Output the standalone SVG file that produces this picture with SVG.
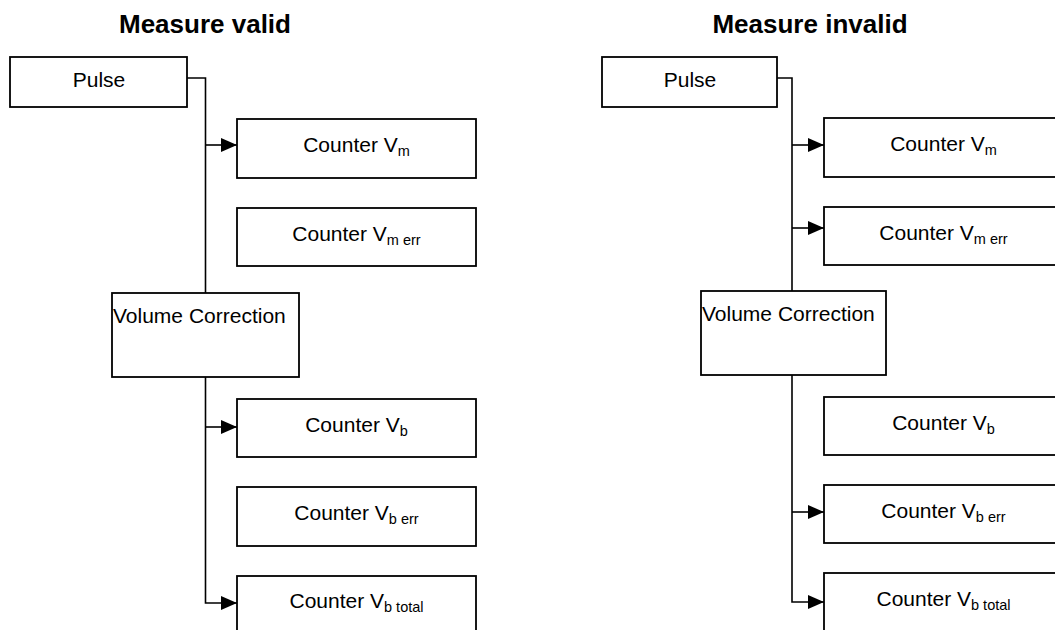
<svg xmlns="http://www.w3.org/2000/svg" width="1055" height="630" viewBox="0 0 1055 630">
<style>
.box{fill:#fff;stroke:#000;stroke-width:1.8}
.con{fill:none;stroke:#000;stroke-width:1.6}
.t{font-family:"Liberation Sans",Arial,sans-serif;font-size:21px;fill:#000}
.c{text-anchor:middle}
.sub{font-size:14.5px}
.title{font-family:"Liberation Sans",Arial,sans-serif;font-size:26px;font-weight:bold;text-anchor:middle;fill:#000}
</style>
<defs>
<marker id="arr" markerUnits="userSpaceOnUse" markerWidth="17" markerHeight="15" refX="16" refY="7" orient="auto">
<path d="M0,0 L16,7 L0,14 z" fill="#000"/>
</marker>
</defs>
<rect width="1055" height="630" fill="#fff"/>
<text class="title" x="205" y="33">Measure valid</text>
<text class="title" x="810" y="33">Measure invalid</text>

<g id="connectors">
<path class="con" d="M187,78 H205.5 V293"/>
<path class="con" d="M205.5,145 H237" marker-end="url(#arr)"/>
<path class="con" d="M205.5,377 V603 H237" marker-end="url(#arr)"/>
<path class="con" d="M205.5,427 H237" marker-end="url(#arr)"/>
<path class="con" d="M777,78 H792 V291"/>
<path class="con" d="M792,145 H824" marker-end="url(#arr)"/>
<path class="con" d="M792,228 H824" marker-end="url(#arr)"/>
<path class="con" d="M792,375 V602 H824" marker-end="url(#arr)"/>
<path class="con" d="M792,512 H824" marker-end="url(#arr)"/>
</g>

<g id="l-pulse"><rect class="box" x="10" y="57" width="177" height="50"/><text class="t c" x="99" y="87">Pulse</text></g>
<g id="l-vm"><rect class="box" x="237" y="119" width="239" height="59"/><text class="t c" x="356.5" y="152">Counter V<tspan class="sub" dy="4">m</tspan></text></g>
<g id="l-vmerr"><rect class="box" x="237" y="208" width="239" height="58"/><text class="t c" x="356.5" y="241">Counter V<tspan class="sub" dy="4">m err</tspan></text></g>
<g id="l-vc"><rect class="box" x="112" y="293" width="187" height="84"/><text class="t" x="113" y="323">Volume Correction</text></g>
<g id="l-vb"><rect class="box" x="237" y="399" width="239" height="58"/><text class="t c" x="356.5" y="432">Counter V<tspan class="sub" dy="4">b</tspan></text></g>
<g id="l-vberr"><rect class="box" x="237" y="487" width="239" height="59"/><text class="t c" x="356.5" y="520">Counter V<tspan class="sub" dy="4">b err</tspan></text></g>
<g id="l-vbtotal"><rect class="box" x="237" y="576" width="239" height="62"/><text class="t c" x="356.5" y="608">Counter V<tspan class="sub" dy="4">b total</tspan></text></g>

<g id="r-pulse"><rect class="box" x="602" y="57" width="175" height="50"/><text class="t c" x="690" y="87">Pulse</text></g>
<g id="r-vm"><rect class="box" x="824" y="118" width="239" height="59"/><text class="t c" x="943.5" y="151">Counter V<tspan class="sub" dy="4">m</tspan></text></g>
<g id="r-vmerr"><rect class="box" x="824" y="207" width="239" height="58"/><text class="t c" x="943.5" y="240">Counter V<tspan class="sub" dy="4">m err</tspan></text></g>
<g id="r-vc"><rect class="box" x="701" y="291" width="185" height="84"/><text class="t" x="702" y="321">Volume Correction</text></g>
<g id="r-vb"><rect class="box" x="824" y="397" width="239" height="58"/><text class="t c" x="943.5" y="430">Counter V<tspan class="sub" dy="4">b</tspan></text></g>
<g id="r-vberr"><rect class="box" x="824" y="485" width="239" height="58"/><text class="t c" x="943.5" y="518">Counter V<tspan class="sub" dy="4">b err</tspan></text></g>
<g id="r-vbtotal"><rect class="box" x="824" y="573" width="239" height="65"/><text class="t c" x="943.5" y="606">Counter V<tspan class="sub" dy="4">b total</tspan></text></g>
</svg>
